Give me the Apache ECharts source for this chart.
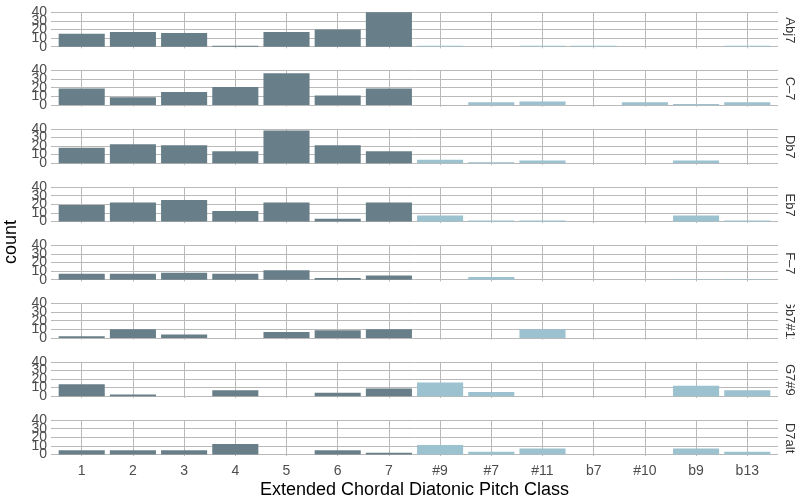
<!DOCTYPE html>
<html>
<head>
<meta charset="utf-8">
<script src="https://cdn.jsdelivr.net/npm/echarts@6/dist/echarts.min.js"></script>
<style>
  html, body { margin: 0; padding: 0; background: #ffffff; }
  #chart { width: 802px; height: 503px; }
</style>
</head>
<body>
<div id="chart"></div>
<script>
// Pitch classes on the x axis; the first seven are diatonic, the rest are extensions
const pitchClasses = ['1', '2', '3', '4', '5', '6', '7', '#9', '#7', '#11', 'b7', '#10', 'b9', 'b13'];
const diatonicCount = 7;

// One facet row per chord
const chords = ['Abj7', 'C–7', 'Db7', 'Eb7', 'F–7', 'Gb7#11', 'G7#9', 'D7alt'];

// Counts per pitch class, one array per chord (same order as pitchClasses)
const countsAbj7   = [15, 17, 16, 1, 17, 20, 40, 1, 0, 1, 1, 0, 0, 1];
const countsCm7    = [19, 9, 15, 21, 37, 11, 19, 0, 3, 4, 0, 3, 1, 3];
const countsDb7    = [18, 22, 21, 14, 38, 21, 14, 4, 1, 3, 0, 0, 3, 0];
const countsEb7    = [19, 22, 25, 12, 22, 3, 22, 7, 1, 1, 0, 0, 7, 1];
const countsFm7    = [7, 7, 8, 7, 11, 2, 5, 0, 3, 0, 0, 0, 0.5, 0.5];
const countsGb7s11 = [2, 10, 4, 0, 7, 9, 10, 0, 0, 10, 0, 0, 0, 0];
const countsG7s9   = [14, 2, 0, 7, 0, 4, 9, 16, 5, 0, 0, 0, 12, 7];
const countsD7alt  = [5, 5, 5, 12, 0, 5, 2, 11, 3, 7, 0, 0, 7, 3];

// y tick labels; split in two sets so the tightly packed labels are all drawn
const yTicks = [0, 10, 20, 30, 40];
const yTicksEven = [0, 20, 40];
const yTicksOdd = [10, 30];

const chordCounts = [countsAbj7, countsCm7, countsDb7, countsEb7, countsFm7, countsGb7s11, countsG7s9, countsD7alt];

const FONT = '"Liberation Sans", Arial, Helvetica, sans-serif';
const DIATONIC_COLOR = '#687f89';
const EXTENSION_COLOR = '#9cc1cf';
const GRID_COLOR = '#b9b9b9';
const TICK_TEXT = '#4d4d4d';

// Facet geometry
const panelTop0 = 12.3;
const panelPitch = 58.25;
const panelHeight = 36.1;
const panelLeft = 51;
const panelRight = 24;
const stripX = 790;

const xTickValues = pitchClasses.map((_, k) => k + 1);

const grids = [];
const xAxes = [];
const yAxes = [];
const yAxesExtra = [];
const series = [];
const graphics = [];

function yLabelStyle(values) {
  return {
    customValues: values,
    showMinLabel: true,
    showMaxLabel: true,
    hideOverlap: false,
    color: TICK_TEXT,
    fontSize: 14,
    fontFamily: FONT,
    margin: 4
  };
}

chordCounts.forEach((counts, i) => {
  const top = panelTop0 + i * panelPitch;
  const isBottom = i === chordCounts.length - 1;

  grids.push({ left: panelLeft, right: panelRight, top: top, height: panelHeight, containLabel: false });

  xAxes.push({
    type: 'value',
    gridIndex: i,
    min: 0.4,
    max: 14.6,
    axisLine: { show: false },
    axisTick: { show: false, customValues: xTickValues },
    axisLabel: {
      show: isBottom,
      customValues: xTickValues,
      showMinLabel: true,
      showMaxLabel: true,
      formatter: v => pitchClasses[Math.round(v) - 1],
      color: TICK_TEXT,
      fontSize: 14,
      fontFamily: FONT,
      margin: 8
    },
    splitLine: { show: true, lineStyle: { color: GRID_COLOR, width: 1 } }
  });

  // Main y axis: gridlines at every tick, labels 0 / 20 / 40
  yAxes.push({
    type: 'value',
    gridIndex: i,
    min: -2,
    max: 40,
    axisLine: { show: false },
    axisTick: { show: false, customValues: yTicks },
    axisLabel: yLabelStyle(yTicksEven),
    splitLine: { show: true, lineStyle: { color: GRID_COLOR, width: 1 } }
  });

  // Companion y axis on the same side carrying labels 10 / 30
  yAxesExtra.push({
    type: 'value',
    gridIndex: i,
    position: 'left',
    offset: 0,
    min: -2,
    max: 40,
    axisLine: { show: false },
    axisTick: { show: false, customValues: yTicksOdd },
    axisLabel: yLabelStyle(yTicksOdd),
    splitLine: { show: false }
  });

  series.push({
    type: 'bar',
    xAxisIndex: i,
    yAxisIndex: i,
    barWidth: '90%',
    silent: true,
    animation: false,
    data: counts.map((c, k) => [k + 1, c]),
    itemStyle: {
      color: p => (p.dataIndex < diatonicCount ? DIATONIC_COLOR : EXTENSION_COLOR)
    }
  });

  // Facet strip label on the right, reading top to bottom
  graphics.push({
    type: 'text',
    x: stripX,
    y: top + panelHeight / 2,
    rotation: -Math.PI / 2,
    z: 90,
    style: {
      text: chords[i],
      textAlign: 'center',
      textVerticalAlign: 'middle',
      font: '13px ' + FONT,
      fill: '#333333'
    }
  });

  // White mask in the gap below each strip so long labels stay inside their strip
  if (i < chordCounts.length - 1) {
    graphics.push({
      type: 'rect',
      z: 100,
      shape: { x: 779, y: top + panelHeight - 1, width: 23, height: panelPitch - panelHeight + 2 },
      style: { fill: '#ffffff' }
    });
  }
});

// Axis titles
graphics.push({
  type: 'text',
  x: (panelLeft + (802 - panelRight)) / 2,
  y: 490,
  z: 90,
  style: {
    text: 'Extended Chordal Diatonic Pitch Class',
    textAlign: 'center',
    textVerticalAlign: 'middle',
    font: '18px ' + FONT,
    fill: '#000000'
  }
});
graphics.push({
  type: 'text',
  x: 11,
  y: 242,
  rotation: Math.PI / 2,
  z: 90,
  style: {
    text: 'count',
    textAlign: 'center',
    textVerticalAlign: 'middle',
    font: '18px ' + FONT,
    fill: '#000000'
  }
});

const chart = echarts.init(document.getElementById('chart'), null, { renderer: 'canvas' });
chart.setOption({
  animation: false,
  backgroundColor: '#ffffff',
  grid: grids,
  xAxis: xAxes,
  yAxis: yAxes.concat(yAxesExtra),
  series: series,
  graphic: graphics
});
</script>
</body>
</html>
